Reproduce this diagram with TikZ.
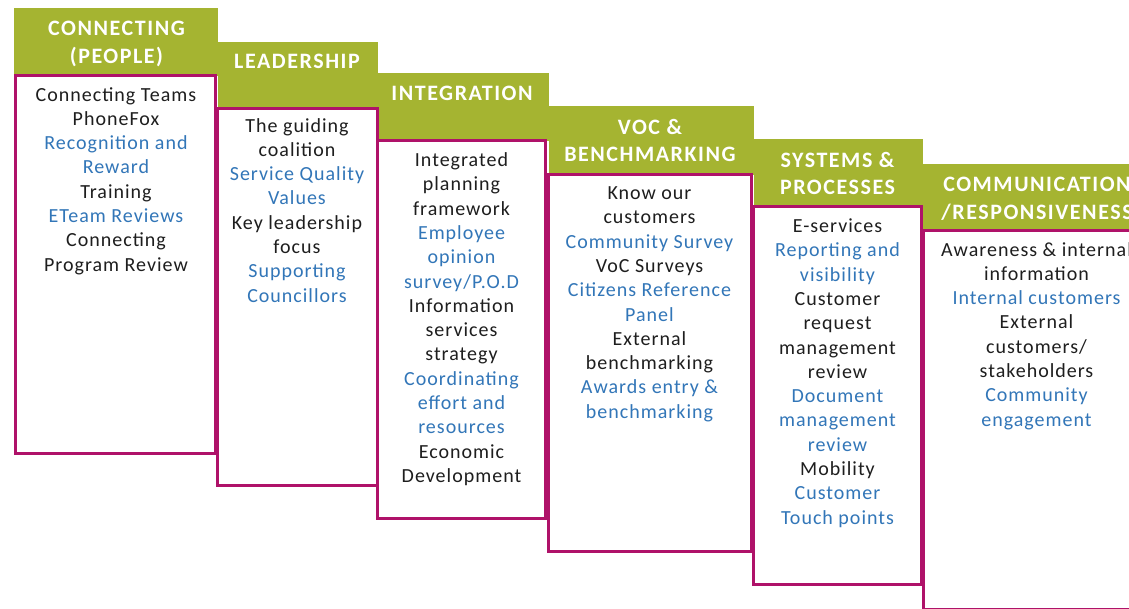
\documentclass[tikz,border=0pt]{standalone}
\usepackage{fontspec}
\setmainfont{Carlito}
\newfontfamily\bodyfont[LetterSpace=5]{Carlito}
\newfontfamily\headfont[LetterSpace=7]{Carlito}
\definecolor{tabgreen}{RGB}{165,180,49}
\definecolor{panelmagenta}{RGB}{175,18,105}
\definecolor{itemblue}{RGB}{50,118,184}
\definecolor{itemblack}{RGB}{30,30,30}
\newcommand{\bl}[1]{\textcolor{itemblue}{#1}}
\newcommand{\colbox}[1]{\parbox[t]{260pt}{\centering #1}}
\tikzset{
  tab/.style={fill=tabgreen, draw=none},
  panel/.style={draw=panelmagenta, line width=3pt, fill=white},
  headtext/.style={anchor=base, inner sep=0pt, text=white,
    font=\headfont\bfseries\fontsize{22}{27.5}\selectfont},
  bodytext/.style={anchor=base, inner sep=0pt, text=itemblack,
    font=\bodyfont\fontsize{20}{24.3}\selectfont},
}
\begin{document}
\begin{tikzpicture}[x=1pt, y=-1pt]
\useasboundingbox (0,0) rectangle (1129,608);
\clip (0,0) rectangle (1129,608);

% green heading tabs, stepping down to the right
\path[tab] (14,8)      rectangle (218,75.5);
\path[tab] (218,42)    rectangle (377.5,108.5);
\path[tab] (377.5,73)  rectangle (548.5,140.5);
\path[tab] (548.5,106) rectangle (753.5,174.5);
\path[tab] (753.5,139) rectangle (923,206.5);
\path[tab] (923,164)   rectangle (1160,230.5);

% white panels with magenta frames
\path[panel] (15.5,75.5)  rectangle (215,453);
\path[panel] (217.5,108.5) rectangle (377.5,485.5);
\path[panel] (377,140.5)  rectangle (545.5,518.5);
\path[panel] (548.5,174.5) rectangle (751.5,551.5);
\path[panel] (753,206.5)  rectangle (921.5,584);
\path[panel] (923,230.5)  rectangle (1150,609);

% headings
\node[headtext] (h1) at (116.5,35.5) {\colbox{CONNECTING\\(PEOPLE)}};
\node[headtext] (h2) at (297,68)     {\colbox{LEADERSHIP}};
\node[headtext] (h3) at (462,100.5)  {\colbox{INTEGRATION}};
\node[headtext] (h4) at (650,134)    {\colbox{VOC \&\\BENCHMARKING}};
\node[headtext] (h5) at (837.5,167)  {\colbox{SYSTEMS \&\\PROCESSES}};
\node[headtext] (h6) at (1037,191.5) {\colbox{COMMUNICATION\\/RESPONSIVENESS}};

% panel contents
\node[bodytext] (b1) at (116,101) {\colbox{Connecting Teams\\PhoneFox\\
  \bl{Recognition and}\\\bl{Reward}\\Training\\\bl{ETeam Reviews}\\
  Connecting\\Program Review}};
\node[bodytext] (b2) at (297,132) {\colbox{The guiding\\coalition\\
  \bl{Service Quality}\\\bl{Values}\\Key leadership\\focus\\
  \bl{Supporting}\\\bl{Councillors}}};
\node[bodytext] (b3) at (461.5,166.5) {\colbox{Integrated\\planning\\framework\\
  \bl{Employee}\\\bl{opinion}\\\bl{survey/P.O.D}\\
  Information\\services\\strategy\\
  \bl{Coordinating}\\\bl{effort and}\\\bl{resources}\\
  Economic\\Development}};
\node[bodytext] (b4) at (649.5,199.5) {\colbox{Know our\\customers\\
  \bl{Community Survey}\\VoC Surveys\\
  \bl{Citizens Reference}\\\bl{Panel}\\
  External\\benchmarking\\
  \bl{Awards entry \&}\\\bl{benchmarking}}};
\node[bodytext] (b5) at (837.5,232.5) {\colbox{E-services\\
  \bl{Reporting and}\\\bl{visibility}\\
  Customer\\request\\management\\review\\
  \bl{Document}\\\bl{management}\\\bl{review}\\
  Mobility\\
  \bl{Customer}\\\bl{Touch points}}};
\node[bodytext] (b6) at (1036.5,256) {\colbox{Awareness \& internal\\information\\
  \bl{Internal customers}\\
  External\\customers/\\stakeholders\\
  \bl{Community}\\\bl{engagement}}};
\end{tikzpicture}
\end{document}
